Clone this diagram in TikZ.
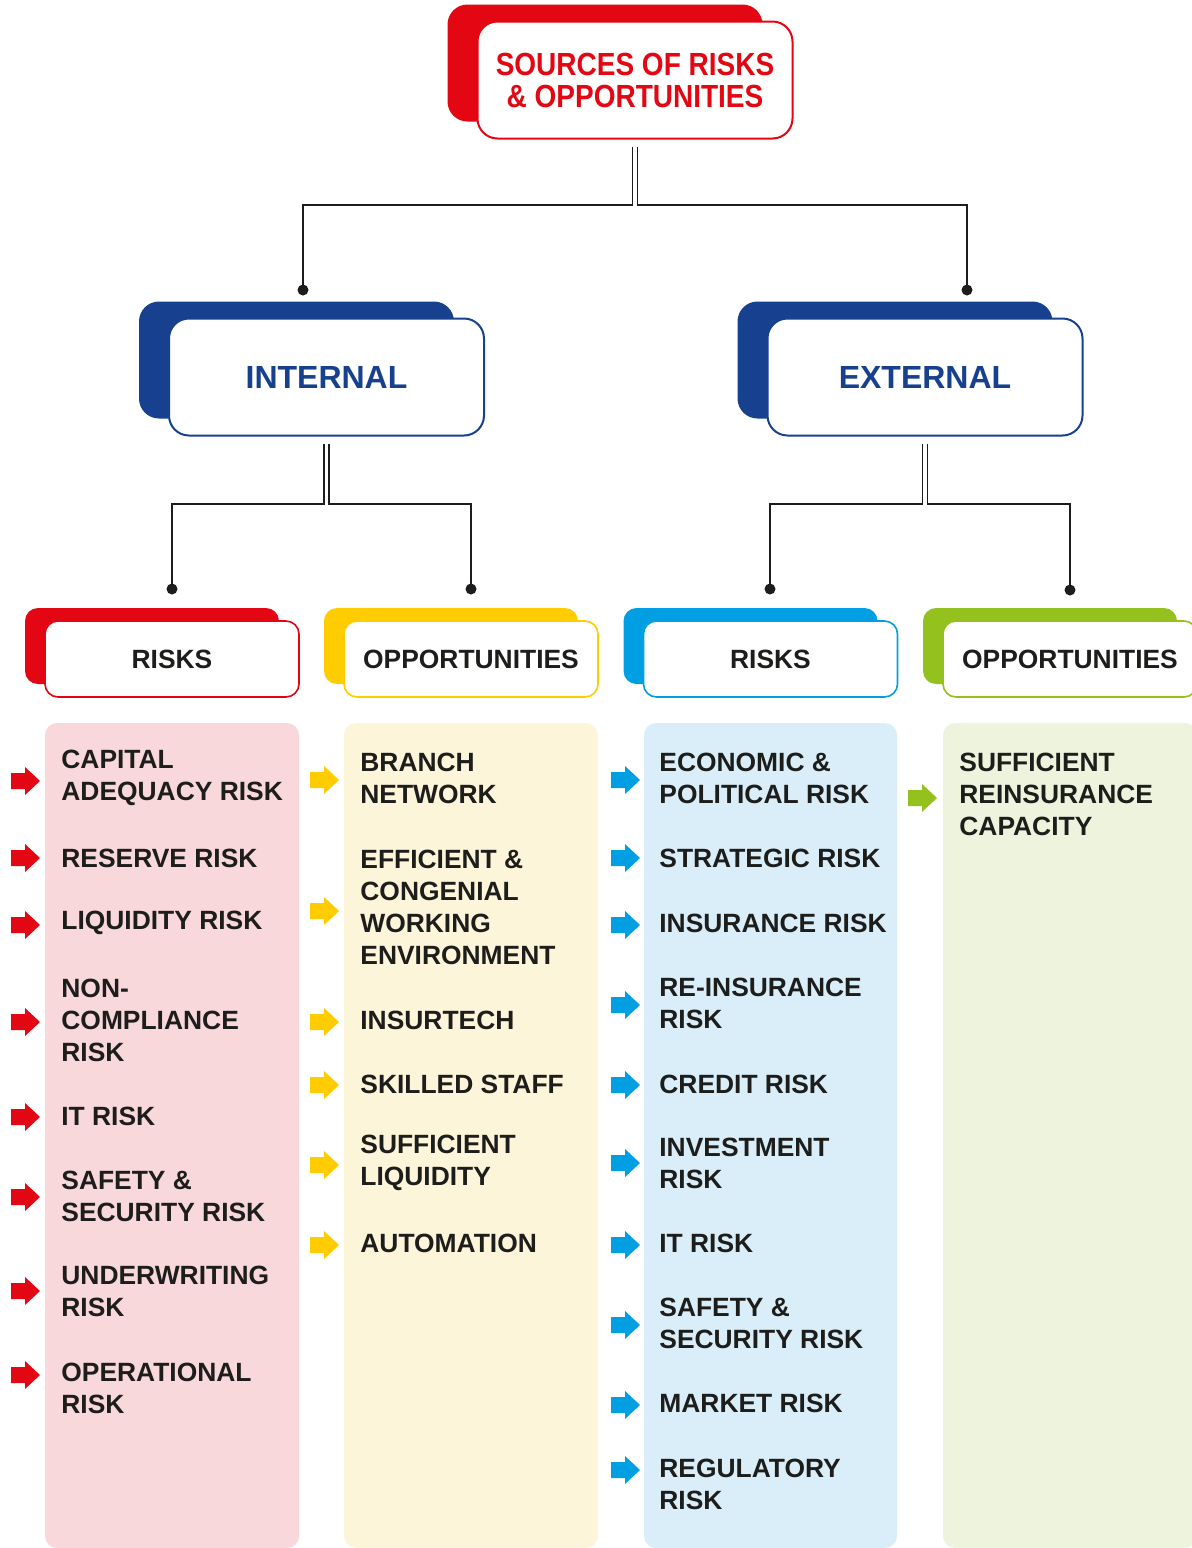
\documentclass[tikz,border=0pt]{standalone}
\usepackage{fontspec}
\setmainfont{Liberation Sans}
\newfontfamily\titlefont[FakeStretch=0.875]{Liberation Sans}
\usetikzlibrary{shadows}

\definecolor{srred}{HTML}{E30613}
\definecolor{srblue}{HTML}{17418F}
\definecolor{srcyan}{HTML}{009FE3}
\definecolor{sryellow}{HTML}{FFCC00}
\definecolor{srgreen}{HTML}{95C11F}
\definecolor{srtext}{HTML}{1D1D1B}
\definecolor{srwire}{HTML}{1D1D1B}
\definecolor{pinkpanel}{HTML}{F9D8DB}
\definecolor{yellowpanel}{HTML}{FDF5DA}
\definecolor{bluepanel}{HTML}{DAEEFA}
\definecolor{greenpanel}{HTML}{EEF3DE}

\tikzset{
  bigbox/.style={draw=#1, line width=1pt, fill=white, rounded corners=10pt,
    minimum width=157.5pt, minimum height=58.5pt,
    general shadow={fill=#1, shadow xshift=-15pt, shadow yshift=8.5pt}},
  hdrbox/.style={draw=#1, line width=0.8pt, fill=white, rounded corners=6.5pt,
    minimum width=127pt, minimum height=38pt, text=srtext,
    font=\fontsize{13.2}{16}\selectfont\bfseries,
    general shadow={fill=#1, shadow xshift=-10pt, shadow yshift=6.5pt}},
  item/.style={anchor=west, align=left, inner sep=0pt, text=srtext,
    font=\fontsize{13.2}{16}\selectfont\bfseries},
  wire/.style={draw=srwire, line width=0.8pt},
  panel/.style={rounded corners=6pt},
  itemarrow/.pic={
    \fill[#1] (0,-8) -- (14,-8) -- (14,-14) -- (29,0) -- (14,14) -- (14,8) -- (0,8) -- cycle;
  }
}

\begin{document}
\begin{tikzpicture}[x=0.5pt, y=-0.5pt]
  \useasboundingbox (0,0) rectangle (1192,1548);

  % top level
  \node[bigbox=srred, text=srred, align=center,
    font=\titlefont\bfseries\fontsize{16}{16}\selectfont] (title) at (635,80)
    {SOURCES OF RISKS\\\& OPPORTUNITIES};
  \node[bigbox=srblue, text=srblue, font=\fontsize{16}{16}\selectfont\bfseries]
    (internal) at (326.5,377) {INTERNAL};
  \node[bigbox=srblue, text=srblue, font=\fontsize{16}{16}\selectfont\bfseries]
    (external) at (925,377) {EXTERNAL};

  % column heads
  \node[hdrbox=srred] (intrisk) at (172,659) {RISKS};
  \node[hdrbox=sryellow] (intopp) at (471,659) {OPPORTUNITIES};
  \node[hdrbox=srcyan] (extrisk) at (770.5,659) {RISKS};
  \node[hdrbox=srgreen] (extopp) at (1070,659) {OPPORTUNITIES};

  % connectors
  \coordinate (tj) at (634.5,205);
  \coordinate (intdot) at (303,290);
  \coordinate (extdot) at (967,290);
  \draw[wire] ([xshift=-1.25pt,yshift=-3.5pt]title.south) |- ([xshift=-1.25pt]tj) -| (intdot);
  \draw[wire] ([xshift=1.25pt,yshift=-3.5pt]title.south) |- ([xshift=1.25pt]tj) -| (extdot);

  \coordinate (ij) at (326.5,504);
  \coordinate (irdot) at (172,589);
  \coordinate (iodot) at (471,589);
  \draw[wire] ([xshift=-1.25pt,yshift=-3.5pt]internal.south) |- ([xshift=-1.25pt]ij) -| (irdot);
  \draw[wire] ([xshift=1.25pt,yshift=-3.5pt]internal.south) |- ([xshift=1.25pt]ij) -| (iodot);

  \coordinate (ej) at (924.5,504);
  \coordinate (erdot) at (770,589);
  \coordinate (eodot) at (1070,590);
  \draw[wire] ([xshift=-1.25pt,yshift=-3.5pt]external.south) |- ([xshift=-1.25pt]ej) -| (erdot);
  \draw[wire] ([xshift=1.25pt,yshift=-3.5pt]external.south) |- ([xshift=1.25pt]ej) -| (eodot);

  \foreach \d in {intdot,extdot,irdot,iodot,erdot,eodot}
    \fill[srwire] (\d) circle (2.75pt);

  % panels
  \fill[panel, pinkpanel] (45,723) rectangle (299,1548);
  \fill[panel, yellowpanel] (344,723) rectangle (598,1548);
  \fill[panel, bluepanel] (644,723) rectangle (897,1548);
  \fill[panel, greenpanel] (943,723) rectangle (1197,1548);

  % internal risks
  \foreach \ty/\ay/\txt [count=\i] in {
      778/781/{CAPITAL\\ADEQUACY RISK},
      858/858/{RESERVE RISK},
      923/925/{LIQUIDITY RISK},
      1020/1022/{NON-\\COMPLIANCE\\RISK},
      1116/1117/{IT RISK},
      1196/1197/{SAFETY \&\\SECURITY RISK},
      1291/1291/{UNDERWRITING\\RISK},
      1388/1375/{OPERATIONAL\\RISK}}{
    \node[item] (ir\i) at (61,\ty) {\txt};
    \pic at (11,\ay) {itemarrow=srred};
  }

  % internal opportunities
  \foreach \ty/\ay/\txt [count=\i] in {
      778/780/{BRANCH\\NETWORK},
      907/911/{EFFICIENT \&\\CONGENIAL\\WORKING\\ENVIRONMENT},
      1020/1022/{INSURTECH},
      1084/1085/{SKILLED STAFF},
      1163/1165/{SUFFICIENT\\LIQUIDITY},
      1243/1245/{AUTOMATION}}{
    \node[item] (io\i) at (360,\ty) {\txt};
    \pic at (310,\ay) {itemarrow=sryellow};
  }

  % external risks
  \foreach \ty/\ay/\txt [count=\i] in {
      778/780/{ECONOMIC \&\\POLITICAL RISK},
      858/858/{STRATEGIC RISK},
      923/925/{INSURANCE RISK},
      1003/1005/{RE-INSURANCE\\RISK},
      1084/1085/{CREDIT RISK},
      1163/1163/{INVESTMENT\\RISK},
      1243/1245/{IT RISK},
      1323/1325/{SAFETY \&\\SECURITY RISK},
      1403/1405/{MARKET RISK},
      1484/1470/{REGULATORY\\RISK}}{
    \node[item] (er\i) at (659,\ty) {\txt};
    \pic at (611,\ay) {itemarrow=srcyan};
  }

  % external opportunities
  \node[item] (eo1) at (959,794) {SUFFICIENT\\REINSURANCE\\CAPACITY};
  \pic at (908,798) {itemarrow=srgreen};
\end{tikzpicture}
\end{document}
